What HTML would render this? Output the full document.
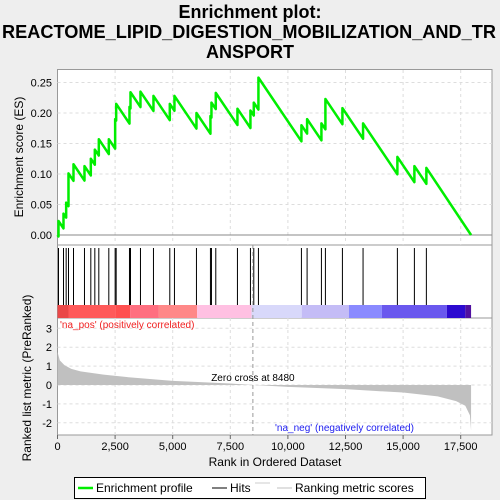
<!DOCTYPE html>
<html><head><meta charset="utf-8"><style>
body{margin:0;background:#eeeeee;width:500px;height:500px;overflow:hidden}
svg{display:block;font-family:"Liberation Sans",sans-serif}
</style></head><body>
<svg id="c" width="500" height="500">
<text x="250" y="18" text-anchor="middle" font-size="18" font-weight="bold">Enrichment plot:</text>
<text x="249" y="38" text-anchor="middle" font-size="18" font-weight="bold" textLength="494" lengthAdjust="spacingAndGlyphs">REACTOME_LIPID_DIGESTION_MOBILIZATION_AND_TR</text>
<text x="250" y="58" text-anchor="middle" font-size="18" font-weight="bold">ANSPORT</text>
</svg>
<script>
const hitRanks=[43,260,376,477,694,1171,1446,1620,1793,2227,2502,2546,3124,3168,3601,4165,4874,5076,6031,6638,6682,6870,7810,8374,8519,8721,10587,10833,11455,11628,12366,13262,14752,15490,16010];
const esPeaks=[0.023,0.035,0.053,0.101,0.116,0.113,0.125,0.14,0.157,0.157,0.19,0.215,0.21,0.234,0.235,0.228,0.215,0.228,0.2,0.195,0.217,0.233,0.207,0.204,0.217,0.258,0.18,0.19,0.183,0.223,0.208,0.183,0.128,0.113,0.11];
const metricRanks=[0,100,300,600,1000,2000,3000,5000,7500,8480,10000,12500,15000,16500,17300,17700,17900,17950];
const metricVals=[1.75,1.3,1.05,0.85,0.72,0.55,0.42,0.22,0.08,0,-0.1,-0.22,-0.4,-0.6,-0.85,-1.1,-1.6,-2.4];
const xTicks=[0,2500,5000,7500,10000,12500,15000,17500];
const esTicks=[0,0.05,0.1,0.15,0.2,0.25];
const mTicks=[3,2,1,0,-1,-2];
const N=17950, decline=5.6e-5;
const L=57.5,R=492;
const X=r=>L+r*(460.7-L)/17500;
const YE=v=>235-v*610;
const YM=v=>385-v*18.9;
const s=document.getElementById('c');
const NS='http://www.w3.org/2000/svg';
function mk(t,a,p){const e=document.createElementNS(NS,t);for(const k in a)e.setAttribute(k,a[k]);(p||s).appendChild(e);return e;}
// panels
let e;
e=mk('rect',{x:L,y:69.5,width:R-L,height:175.5,fill:'#fff',stroke:'#999'});


e=mk('rect',{x:L,y:245,width:R-L,height:73,fill:'#fff',stroke:'#999'});


e=mk('rect',{x:L,y:318,width:R-L,height:117,fill:'#fff',stroke:'#999'});


// grids
xTicks.forEach(t=>{if(t>0){mk('line',{x1:X(t),x2:X(t),y1:70,y2:245,stroke:'#ddd','stroke-dasharray':'3,3'});mk('line',{x1:X(t),x2:X(t),y1:318,y2:435,stroke:'#ddd','stroke-dasharray':'3,3'});}});
esTicks.forEach(t=>{mk('line',{x1:L,x2:R,y1:YE(t),y2:YE(t),stroke:t==0?'#888':'#ddd','stroke-dasharray':t==0?'':'3,3'});
 e=mk('text',{x:52,y:YE(t)+4,'text-anchor':'end','font-size':11});e.textContent=t.toFixed(2);
 
 });
mTicks.forEach(t=>{mk('line',{x1:L,x2:R,y1:YM(t),y2:YM(t),stroke:'#ddd','stroke-dasharray':'3,3'});
 e=mk('text',{x:52,y:YM(t)+4,'text-anchor':'end','font-size':11});e.textContent=t;
 
 });
// color bar
const segs=[[0,477,'#ea4848'],[477,2502,'#ff5a5a'],[2502,3150,'#ff5050'],[3150,4400,'#ff6f80'],[4400,6060,'#ff8888'],[6060,8420,'#ffc0e2'],[8420,10600,'#d8d8fa'],[10600,12650,'#c4bcf6'],[12650,14080,'#8a8aff'],[14080,16900,'#6a58ee'],[16900,17700,'#2c0ad0'],[17700,17950,'#5010a0']];
segs.forEach(g=>{e=mk('rect',{x:X(g[0]),y:305,width:X(g[1])-X(g[0]),height:13,fill:g[2]});
 
 });
// hits
hitRanks.forEach(r=>{e=mk('line',{x1:X(r),x2:X(r),y1:248,y2:305,stroke:'#000','stroke-width':1});
 
 });
// metric area
let d='M'+X(0)+','+YM(0);
metricRanks.forEach((r,i)=>{d+=' L'+X(r)+','+YM(metricVals[i]);});
d+=' L'+X(N)+','+YM(0)+'Z';
e=mk('path',{d:d,fill:'#c0c0c0',stroke:'none'});


mk('line',{x1:X(8480),x2:X(8480),y1:245,y2:435,stroke:'#999','stroke-dasharray':'4,3'});
e=mk('text',{x:X(8480),y:381,'text-anchor':'middle','font-size':10});e.textContent='Zero cross at 8480';


e=mk('text',{x:60,y:328,'font-size':10,fill:'#f02020'});e.textContent="'na_pos' (positively correlated)";


e=mk('text',{x:275,y:431,'font-size':10,fill:'#2020f0'});e.textContent="'na_neg' (negatively correlated)";


// ES curve
let pts=[[0,0]],prevR=0,prevV=0;
hitRanks.forEach((r,i)=>{const b=prevV-(r-prevR)*decline;pts.push([r,b]);pts.push([r,esPeaks[i]]);prevR=r;prevV=esPeaks[i];});
pts.push([N,0]);
e=mk('polyline',{points:pts.map(p=>X(p[0])+','+YE(p[1])).join(' '),fill:'none',stroke:'#00ee00','stroke-width':2.5,'stroke-linejoin':'round'});


// x axis ticks
xTicks.forEach(t=>{mk('line',{x1:X(t),x2:X(t),y1:435,y2:439,stroke:'#666'});
 e=mk('text',{x:X(t),y:450,'text-anchor':'middle','font-size':11});e.textContent=t.toLocaleString('en-US');
 
 });
e=mk('text',{x:275,y:466,'text-anchor':'middle','font-size':12});e.textContent='Rank in Ordered Dataset';


e=mk('text',{x:0,y:0,transform:'translate(23,157) rotate(-90)','text-anchor':'middle','font-size':12});e.textContent='Enrichment score (ES)';


e=mk('text',{x:0,y:0,transform:'translate(31,378) rotate(-90)','text-anchor':'middle','font-size':12});e.textContent='Ranked list metric (PreRanked)';


// legend
const lg=mk('g',{});


mk('rect',{x:74.5,y:477.5,width:351,height:21,fill:'#fff',stroke:'#000'},lg);
mk('line',{x1:78,x2:93,y1:488,y2:488,stroke:'#00ee00','stroke-width':2.5},lg);
e=mk('text',{x:96,y:492,'font-size':12},lg);e.textContent='Enrichment profile';


mk('line',{x1:212,x2:227,y1:488,y2:488,stroke:'#000'},lg);
e=mk('text',{x:230,y:492,'font-size':12},lg);e.textContent='Hits';


mk('line',{x1:255,x2:270,y1:483,y2:483,stroke:'#ccc'},lg);
mk('line',{x1:277,x2:292,y1:488,y2:488,stroke:'#c0c0c0'},lg);
e=mk('text',{x:295,y:492,'font-size':12},lg);e.textContent='Ranking metric scores';


</script>
</body></html>
